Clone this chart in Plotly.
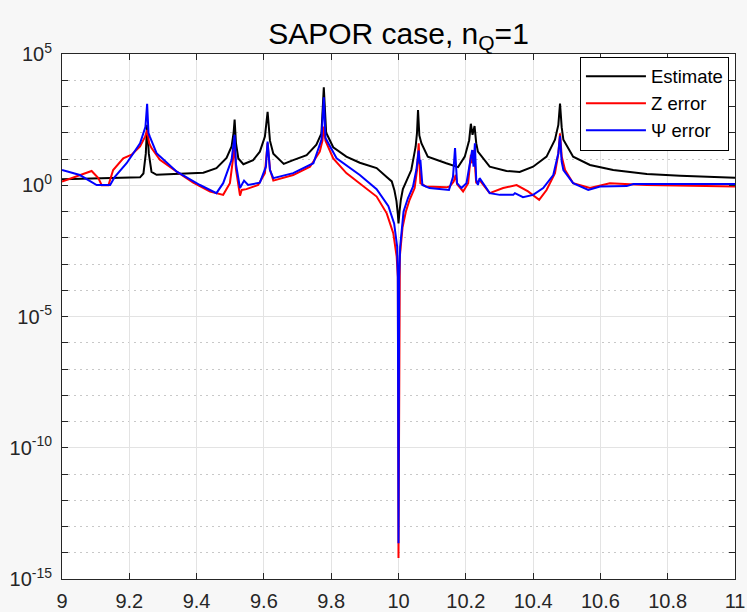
import plotly.graph_objects as go

# ---------------- data ----------------
est_x = [9.0, 9.113, 9.232, 9.242, 9.249, 9.253, 9.258, 9.266, 9.281, 9.42, 9.459, 9.489, 9.504, 9.510,
         9.513, 9.517, 9.524, 9.539, 9.568, 9.588, 9.603, 9.611, 9.618, 9.628, 9.659, 9.687, 9.727,
         9.756, 9.771, 9.778, 9.785, 9.806, 9.845, 9.885, 9.935, 9.964, 9.98, 9.988, 9.994, 9.998,
         10.0, 10.003, 10.007, 10.013, 10.022, 10.038, 10.051, 10.055, 10.058, 10.062, 10.068, 10.087,
         10.142, 10.177, 10.197, 10.210, 10.215, 10.220, 10.226, 10.231, 10.236, 10.271, 10.321,
         10.36, 10.40, 10.44, 10.465, 10.475, 10.48, 10.485, 10.49, 10.519, 10.569, 10.638, 10.738,
         10.837, 11.0]
est_y = [1.7, 1.86, 2.0, 2.8, 16, 200, 16, 3.2, 2.5, 3.0, 4.5, 11, 30, 100,
         320, 40, 10.5, 6.3, 9.1, 19, 71, 630, 50, 16, 6.5, 9.1, 14,
         35, 95, 5400, 100, 28, 12.3, 7.2, 4.5, 2.1, 1.4, 0.63, 0.25, 0.08,
         0.035, 0.1, 0.28, 0.71, 1.26, 3.8, 30, 100, 740, 79, 40, 12.3,
         6.9, 4.9, 12.3, 52, 220, 83, 180, 40, 19, 5.1, 3.5,
         3.2, 5.1, 12.3, 54, 200, 1300, 160, 54, 12.3, 5.9, 3.8, 2.7,
         2.3, 1.95]

z_x = [9.0, 9.088, 9.108, 9.118, 9.138, 9.152, 9.182, 9.207, 9.232, 9.247, 9.253, 9.259, 9.266, 9.291,
       9.341, 9.39, 9.44, 9.479, 9.499, 9.509, 9.513, 9.517, 9.524, 9.529, 9.534, 9.548, 9.583,
       9.603, 9.611, 9.618, 9.628, 9.687, 9.737, 9.766, 9.774, 9.778, 9.783, 9.806, 9.845, 9.885,
       9.935, 9.965, 9.9845, 9.9946, 9.998, 10.0, 10.002, 10.004, 10.012, 10.022, 10.033, 10.048,
       10.055, 10.06, 10.065, 10.082, 10.142, 10.152, 10.164, 10.17, 10.174, 10.192, 10.207,
       10.215, 10.219, 10.224, 10.231, 10.241, 10.271, 10.311, 10.351, 10.385, 10.418, 10.44,
       10.465, 10.475, 10.48, 10.485, 10.495, 10.519, 10.569, 10.628, 10.688, 10.738, 11.0]
z_y = [1.38, 3.5, 1.86, 1.0, 1.0, 3.8, 10.7, 14.5, 30, 71, 126, 40, 26, 9.3,
       3.3, 1.26, 0.58, 0.43, 1.2, 9.3, 30, 4.0, 1.02, 0.4, 0.66, 0.71, 1.02,
       2.9, 40, 4.0, 1.5, 2.45, 5.1, 19, 50, 170, 50, 10.5, 2.9, 1.2,
       0.37, 0.085, 0.015, 1.9e-3, 3.2e-4, 6.3e-15, 3.2e-4, 2e-3, 0.025, 0.1, 0.28, 0.78,
       3.8, 40, 1.2, 0.89, 0.83, 0.89, 1.38, 2.5, 1.12, 0.58, 1.2,
       14.5, 6.9, 22, 1.2, 1.58, 0.5, 0.78, 1.02, 0.58, 0.28, 0.66,
       2.9, 16, 95, 12.6, 3.8, 1.2, 0.78, 1.2, 1.1, 1.02, 0.89]

psi_x = [9.0, 9.053, 9.103, 9.143, 9.157, 9.192, 9.232, 9.248, 9.253, 9.257, 9.261, 9.281, 9.341,
         9.41, 9.459, 9.479, 9.504, 9.513, 9.517, 9.522, 9.529, 9.541, 9.553, 9.588, 9.606, 9.611,
         9.618, 9.628, 9.687, 9.747, 9.771, 9.778, 9.783, 9.816, 9.885, 9.935, 9.970, 9.987, 9.996,
         9.998, 10.0, 10.002, 10.005, 10.015, 10.028, 10.043, 10.053, 10.06, 10.063, 10.065, 10.071,
         10.092, 10.15, 10.162, 10.168, 10.174, 10.187, 10.202, 10.214, 10.219, 10.223, 10.227,
         10.231, 10.236, 10.241, 10.271, 10.301, 10.341, 10.346, 10.37, 10.40, 10.43, 10.46,
         10.475, 10.48, 10.485, 10.49, 10.519, 10.564, 10.599, 10.678, 10.698, 11.0]
psi_y = [3.8, 2.45, 1.02, 1.02, 2.1, 6.9, 40, 170, 1260, 100, 71, 16.6, 3.3,
         1.02, 0.5, 1.2, 9.3, 83, 6.3, 2.9, 0.78, 1.5, 1.02, 1.26, 5.1, 46,
         3.8, 1.86, 2.9, 6.9, 54, 2240, 63, 10.7, 2.45, 0.71, 0.16, 0.035, 4.6e-3,
         3.2e-4, 2.3e-14, 3.2e-4, 4.6e-3, 0.1, 0.32, 0.89, 3.8, 21, 6.3, 9.3, 1.02,
         0.78, 0.66, 2.1, 26, 1.2, 0.78, 1.2, 9.3, 22, 5.1, 40,
         1.58, 1.02, 1.86, 0.5, 0.43, 0.43, 0.5, 0.35, 0.43, 0.78, 2.45,
         16.6, 76, 7.9, 3.8, 1.2, 0.66, 0.89, 0.93, 1.12, 1.12]

series_names = ["Estimate", "Z error", "\u03a8 error"]
series_colors = ["#000000", "#ff0000", "#0000ff"]

x_tick_vals = [9, 9.2, 9.4, 9.6, 9.8, 10, 10.2, 10.4, 10.6, 10.8, 11]
x_tick_text = ["9", "9.2", "9.4", "9.6", "9.8", "10", "10.2", "10.4", "10.6", "10.8", "11"]
y_tick_vals = [1e-15, 1e-10, 1e-5, 1, 1e5]
y_tick_text = ["10<sup>-15</sup>", "10<sup>-10</sup>", "10<sup>-5</sup>", "10<sup>0</sup>", "10<sup>5</sup>"]
y_minor_vals = [10.0 ** k for k in range(-15, 6)]

title_text = "SAPOR case, n<sub>Q</sub>=1"

# ---------------- figure ----------------
FONT = "Liberation Sans, Arial, Helvetica, sans-serif"
AX = "#262626"

fig = go.Figure()
for xs, ys, name, col in zip([est_x, z_x, psi_x], [est_y, z_y, psi_y], series_names, series_colors):
    fig.add_trace(go.Scatter(x=xs, y=ys, mode="lines", name=name,
                             line=dict(color=col, width=2)))

fig.update_layout(
    width=747, height=612,
    margin=dict(l=62, r=12, t=54, b=33, autoexpand=False),
    paper_bgcolor="#f7f7f7",
    plot_bgcolor="#ffffff",
    font=dict(family=FONT, size=20, color="#000000"),
    title=dict(text=title_text, x=398.5 / 747, xanchor="center",
               y=1 - 33 / 612, yanchor="middle",
               font=dict(family=FONT, size=30, color="#000000")),
    showlegend=True,
    legend=dict(x=0.991, y=0.995, xanchor="right", yanchor="top",
                bgcolor="#ffffff", bordercolor="#000000", borderwidth=1,
                font=dict(family=FONT, size=18.5, color="#000000"),
                itemwidth=60, tracegroupgap=0),
)

fig.update_xaxes(
    range=[9, 11], tickmode="array", tickvals=x_tick_vals, ticktext=x_tick_text,
    automargin=False,
    showgrid=True, gridcolor="#e3e3e3", gridwidth=1,
    showline=True, linecolor=AX, linewidth=1, mirror="ticks",
    ticks="inside", ticklen=6, tickcolor=AX, zeroline=False,
    ticklabelstandoff=4,
    tickfont=dict(family=FONT, size=20, color="#262626"),
)
fig.update_yaxes(
    type="log", range=[-15, 5], tickmode="array", tickvals=y_tick_vals, ticktext=y_tick_text,
    automargin=False,
    showgrid=True, gridcolor="#e3e3e3", gridwidth=1,
    showline=True, linecolor=AX, linewidth=1, mirror="ticks",
    ticks="inside", ticklen=6, tickcolor=AX, zeroline=False,
    ticklabelstandoff=5,
    tickfont=dict(family=FONT, size=20, color="#262626"),
    minor=dict(tickmode="array", tickvals=y_minor_vals, showgrid=True,
               gridcolor="#c8c8c8", griddash="2px,4px", gridwidth=1,
               ticks="inside", ticklen=6, tickcolor=AX),
)

fig.write_html("out.html",
               config={"displayModeBar": False},
               post_script="document.body.style.margin='0px';document.body.style.overflow='hidden';")
